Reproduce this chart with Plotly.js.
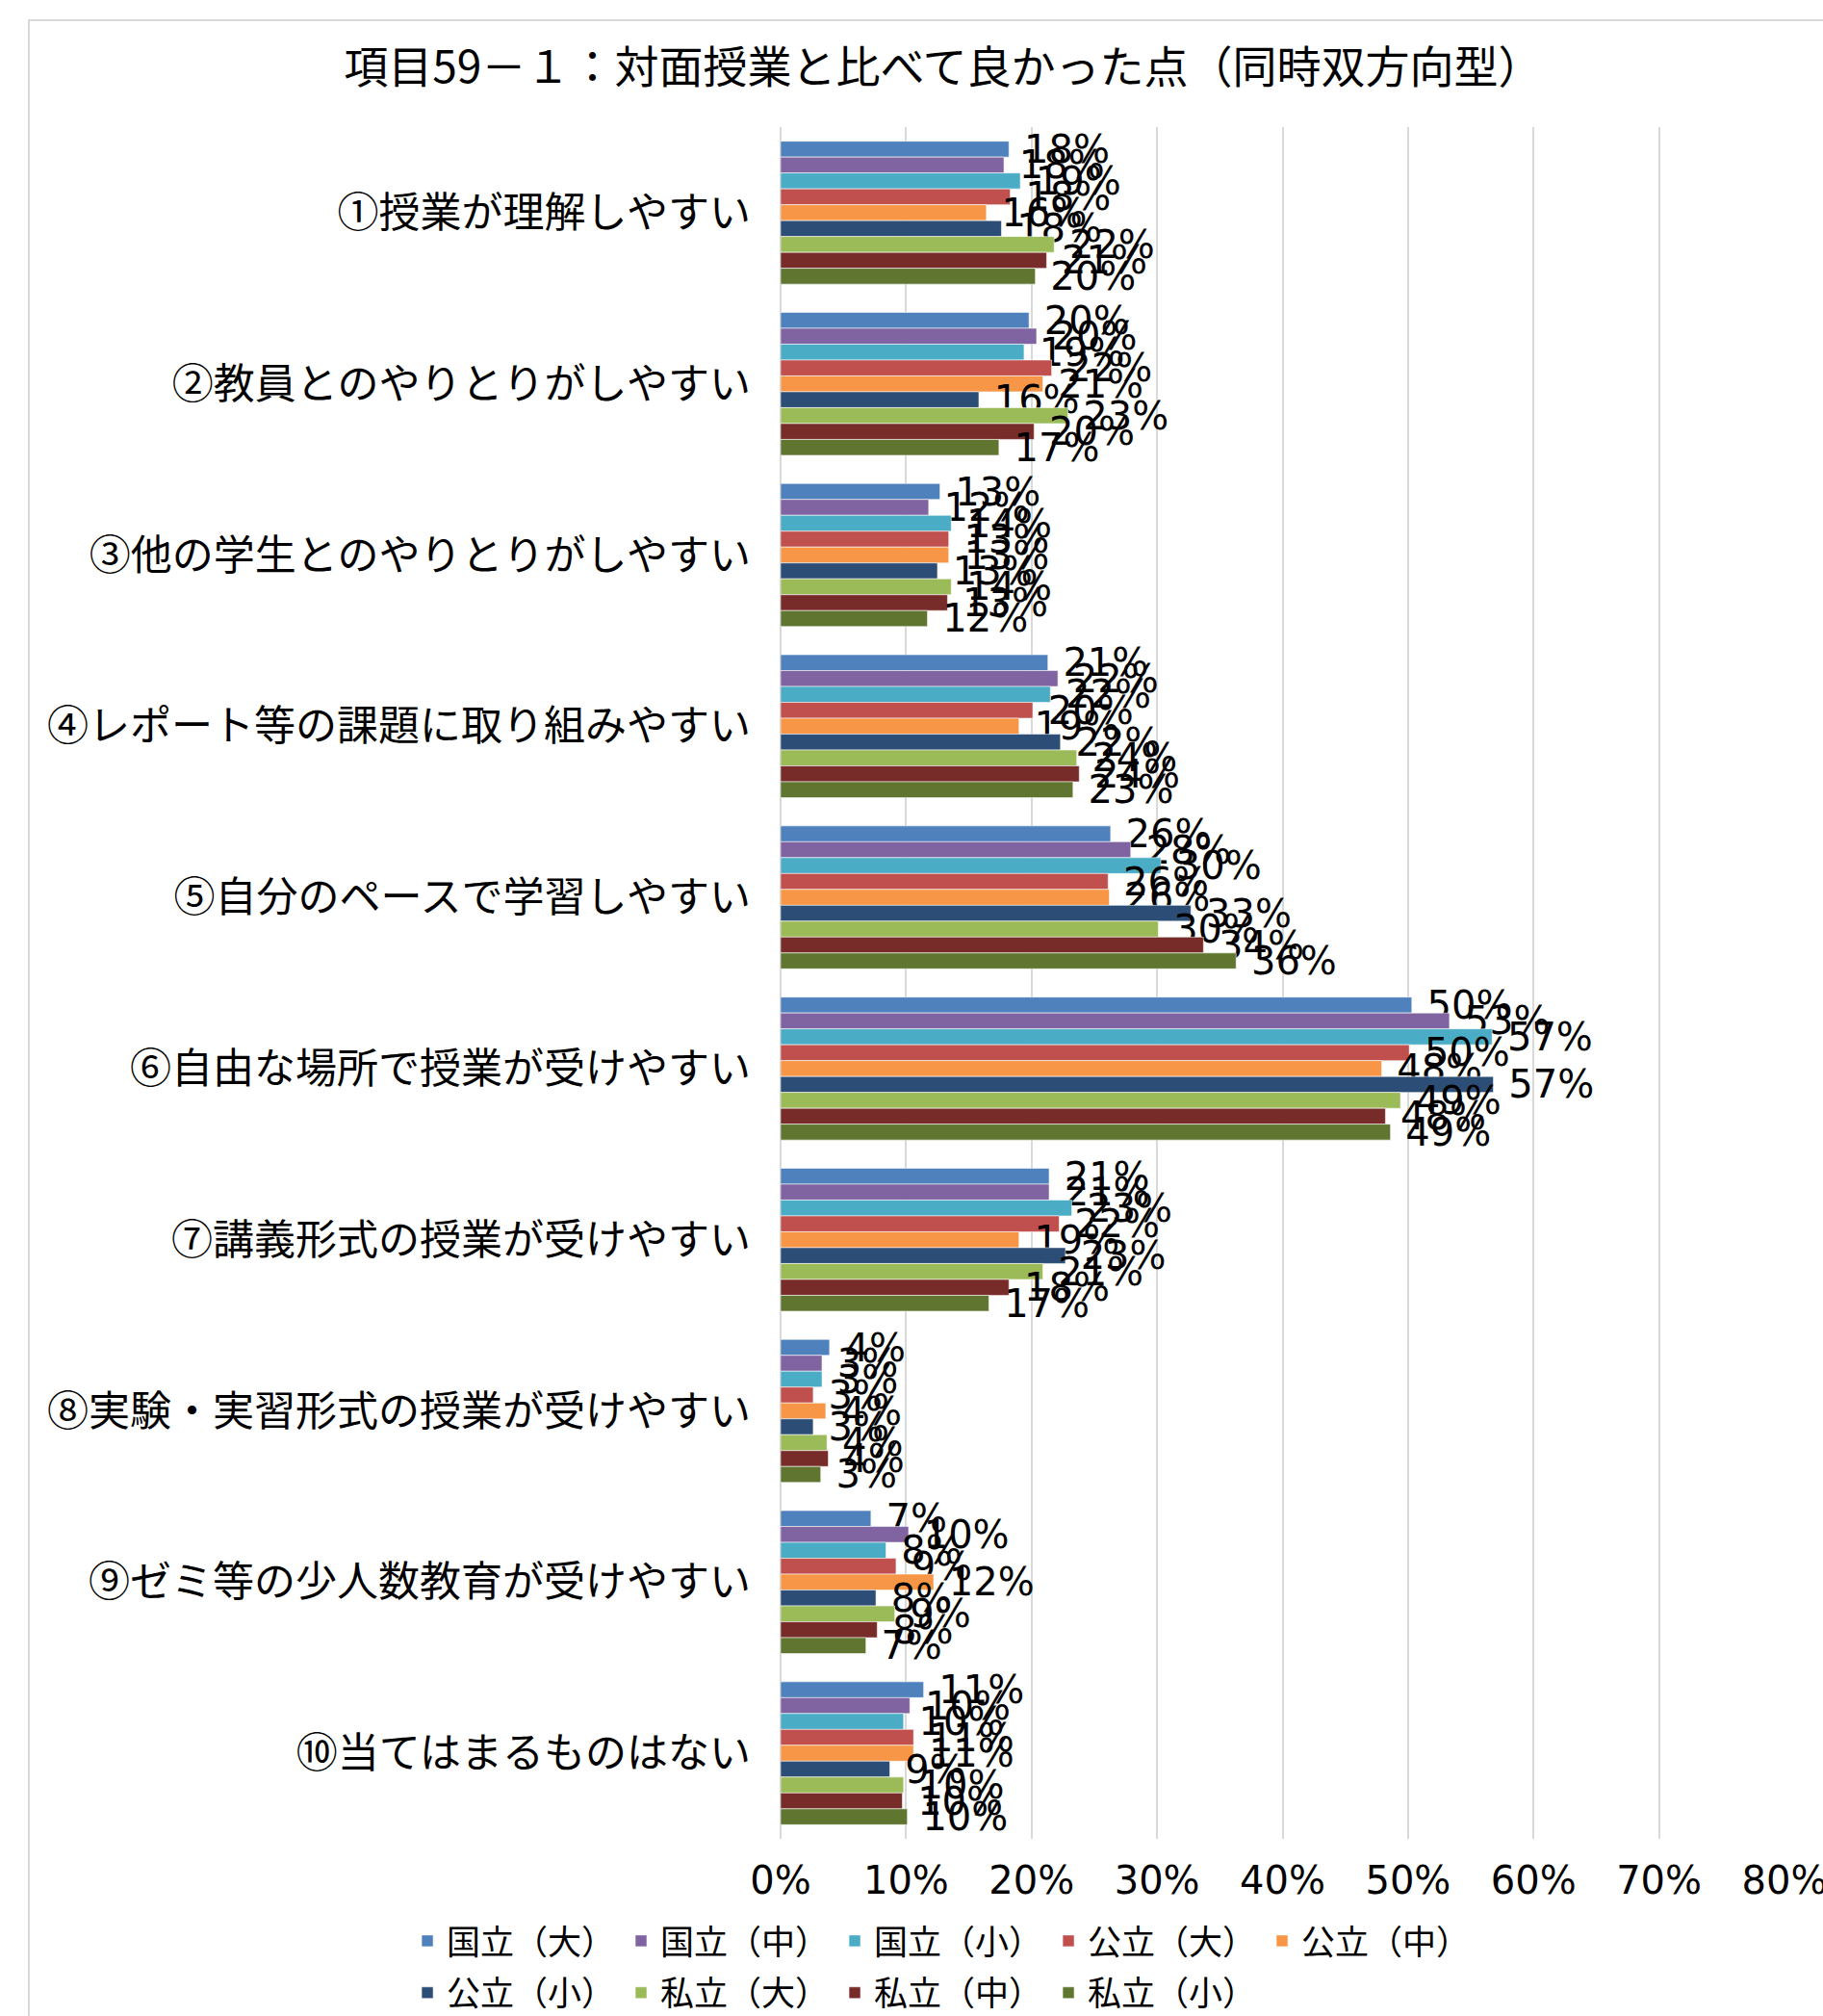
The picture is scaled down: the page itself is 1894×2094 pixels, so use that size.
<!DOCTYPE html>
<html><head><meta charset="utf-8">
<script src="https://cdn.plot.ly/plotly-3.0.1.min.js"></script>
<style>
html,body{margin:0;padding:0;background:#fff;overflow:hidden;}
#frame{position:absolute;left:29px;top:20px;width:1900px;height:2100px;border-left:2px solid #d9d9d9;border-top:2px solid #d9d9d9;}
#chart{position:absolute;left:0;top:0;width:1894px;height:2094px;}
</style></head><body>
<div id="frame"></div>
<div id="chart"></div>
<script>
// Categories (y axis)
const categories = [
  "①授業が理解しやすい",
  "②教員とのやりとりがしやすい",
  "③他の学生とのやりとりがしやすい",
  "④レポート等の課題に取り組みやすい",
  "⑤自分のペースで学習しやすい",
  "⑥自由な場所で授業が受けやすい",
  "⑦講義形式の授業が受けやすい",
  "⑧実験・実習形式の授業が受けやすい",
  "⑨ゼミ等の少人数教育が受けやすい",
  "⑩当てはまるものはない"
];
// Series names
const seriesNames = ["国立（大）","国立（中）","国立（小）","公立（大）","公立（中）","公立（小）","私立（大）","私立（中）","私立（小）"];
// Series values (fractions)
const kokuritsuDai   = [0.182, 0.198, 0.127, 0.213, 0.263, 0.503, 0.214, 0.039, 0.072, 0.114];
const kokuritsuChu   = [0.178, 0.204, 0.118, 0.221, 0.279, 0.533, 0.214, 0.033, 0.102, 0.103];
const kokuritsuSho   = [0.191, 0.194, 0.136, 0.215, 0.303, 0.567, 0.232, 0.033, 0.084, 0.098];
const koritsuDai     = [0.183, 0.216, 0.134, 0.201, 0.261, 0.501, 0.222, 0.026, 0.092, 0.106];
const koritsuChu     = [0.164, 0.209, 0.134, 0.190, 0.262, 0.479, 0.190, 0.036, 0.122, 0.106];
const koritsuSho     = [0.176, 0.158, 0.125, 0.223, 0.327, 0.568, 0.227, 0.026, 0.076, 0.087];
const shiritsuDai    = [0.218, 0.229, 0.136, 0.236, 0.301, 0.494, 0.209, 0.037, 0.091, 0.098];
const shiritsuChu    = [0.212, 0.202, 0.133, 0.238, 0.337, 0.482, 0.182, 0.038, 0.077, 0.097];
const shiritsuSho    = [0.203, 0.174, 0.117, 0.233, 0.363, 0.486, 0.166, 0.032, 0.068, 0.101];
const seriesValues = [kokuritsuDai, kokuritsuChu, kokuritsuSho, koritsuDai, koritsuChu, koritsuSho, shiritsuDai, shiritsuChu, shiritsuSho];
// X tick values
const xTickVals = [0, 0.1, 0.2, 0.3, 0.4, 0.5, 0.6, 0.7, 0.8];
const titleText = "項目59－１：対面授業と比べて良かった点（同時双方向型）";

const colors = ["#4F81BD","#8064A2","#4BACC6","#C0504D","#F79646","#2C4D75","#9BBB59","#772C2A","#5F7530"];
const cjk = '"Noto Sans CJK JP", "Noto Sans CJK SC", sans-serif';
const num = '"DejaVu Sans", sans-serif';

const traces = seriesNames.map((name, i) => ({
  type: 'bar',
  orientation: 'h',
  name: name,
  y: categories,
  x: seriesValues[i],
  marker: {color: colors[i], line: {color: 'rgba(255,255,255,0.55)', width: 1}},
  texttemplate: '\u00a0%{x:.0%}',
  textposition: 'outside',
  constraintext: 'none',
  cliponaxis: false,
  textfont: {family: num, size: 40, color: '#000'},
  legend: i < 5 ? 'legend' : 'legend2',
  hoverinfo: 'skip'
}));

const legendCommon = {
  orientation: 'h',
  xanchor: 'left',
  yanchor: 'middle',
  font: {family: cjk, size: 35, color: '#000'},
  entrywidth: 177,
  entrywidthmode: 'pixels',
  bgcolor: 'rgba(0,0,0,0)',
  borderwidth: 0,
  traceorder: 'normal'
};

const layout = {
  width: 1894,
  height: 2094,
  paper_bgcolor: 'rgba(0,0,0,0)',
  plot_bgcolor: 'rgba(0,0,0,0)',
  margin: {l: 811, r: 40, t: 132, b: 184, autoexpand: false},
  barmode: 'group',
  bargap: 0.165,
  bargroupgap: 0,
  title: {
    text: titleText,
    font: {family: cjk, size: 46, color: '#000'},
    x: 0.5174, xanchor: 'center', xref: 'container',
    y: 1 - 70/2094, yanchor: 'middle', yref: 'container'
  },
  xaxis: {
    range: [0, 0.8],
    tickvals: xTickVals,
    tickformat: '.0%',
    showgrid: true,
    gridcolor: '#d9d9d9',
    gridwidth: 2,
    zeroline: true,
    zerolinecolor: '#d9d9d9',
    zerolinewidth: 2,
    showline: false,
    ticks: '',
    ticklabelstandoff: 16,
    ticklabeloverflow: 'allow',
    tickfont: {family: num, size: 40, color: '#000'},
    fixedrange: true
  },
  yaxis: {
    type: 'category',
    autorange: 'reversed',
    showgrid: false,
    zeroline: false,
    showline: false,
    ticks: '',
    ticklabelstandoff: 30,
    tickfont: {family: cjk, size: 43, color: '#000'},
    fixedrange: true
  },
  legend: Object.assign({}, legendCommon, {x: -0.371, y: -0.0597}),
  legend2: Object.assign({}, legendCommon, {x: -0.371, y: -0.0900}),
  showlegend: true
};

Plotly.newPlot('chart', traces, layout, {displayModeBar: false, staticPlot: true});
</script>
</body></html>
